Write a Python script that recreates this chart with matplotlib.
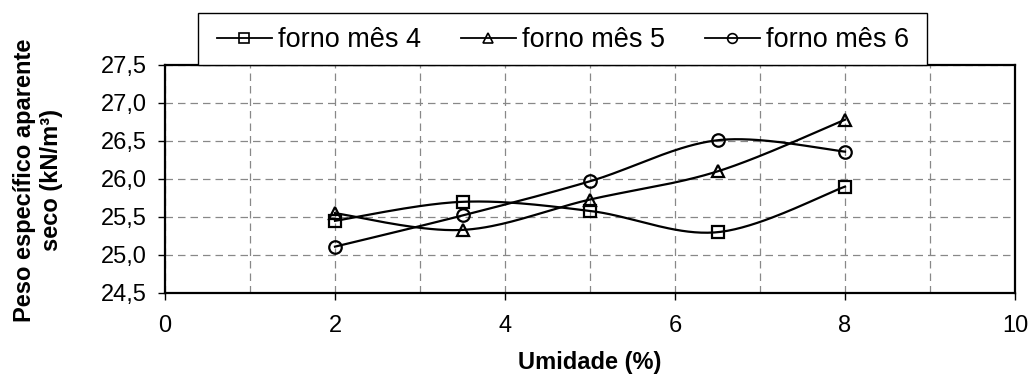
import matplotlib
matplotlib.use("Agg")
import matplotlib.pyplot as plt
from matplotlib.lines import Line2D
from matplotlib.patches import Rectangle
import numpy as np

plt.rcParams['font.family'] = ['Liberation Sans', 'DejaVu Sans']

# Data
umidade = [2, 3.5, 5, 6.5, 8]
mes4 = [25.45, 25.70, 25.58, 25.30, 25.90]
mes5 = [25.55, 25.33, 25.73, 26.10, 26.78]
mes6 = [25.11, 25.52, 25.97, 26.51, 26.36]
labels = ["forno mês 4", "forno mês 5", "forno mês 6"]
markers = ["s", "^", "o"]


def smooth(x, y, n=40):
    # Excel-like smoothed line (cubic Bezier through the points)
    p = np.column_stack([x, y]).astype(float)
    ext = np.vstack([p[0], p, p[-1]])
    t = np.linspace(0, 1, n)[:, None]
    out = []
    for i in range(len(p) - 1):
        p0, p3 = ext[i + 1], ext[i + 2]
        c1 = p0 + (ext[i + 2] - ext[i]) / 6
        c2 = p3 - (ext[i + 3] - ext[i + 1]) / 6
        seg = ((1 - t) ** 3) * p0 + 3 * ((1 - t) ** 2) * t * c1 + 3 * (1 - t) * t ** 2 * c2 + t ** 3 * p3
        out.append(seg)
    out = np.vstack(out)
    return out[:, 0], out[:, 1]


W, H = 1033, 379
fig = plt.figure(figsize=(W / 100, H / 100), dpi=100)
ax = fig.add_axes([165 / W, 1 - 293 / H, 850 / W, 228 / H])

for ys, m in zip([mes4, mes5, mes6], markers):
    sx, sy = smooth(umidade, ys)
    ax.plot(sx, sy, color="black", lw=1.6, zorder=3)
    ax.plot(umidade, ys, linestyle="none", marker=m, markersize=9,
            markerfacecolor="none", markeredgecolor="black", markeredgewidth=1.6, zorder=4)

ax.set_xlim(0, 10)
ax.set_ylim(24.5, 27.5)
ax.set_xticks([0, 2, 4, 6, 8, 10])
ax.set_xticks(np.arange(0, 11, 1), minor=True)
yt = np.arange(24.5, 27.51, 0.5)
ax.set_yticks(yt)
ax.set_yticklabels([f"{v:.1f}".replace(".", ",") for v in yt])
ax.tick_params(axis="both", which="major", labelsize=17, direction="out", length=5, width=1)
ax.tick_params(axis="x", which="minor", length=0)
ax.tick_params(axis="x", pad=11)
ax.tick_params(axis="y", pad=8)
ax.grid(True, which="both", color="#888888", linestyle=(0, (6, 4)), linewidth=0.9)
ax.grid(False, axis="y", which="minor")
for s in ax.spines.values():
    s.set_linewidth(1.6)

fig.text(590 / W, 1 - 363 / H, "Umidade (%)", ha="center", va="center",
         fontsize=17, fontweight="bold")
fig.text(38 / W, 1 - 180 / H, "Peso específico aparente\nseco (kN/m³)", rotation=90,
         ha="center", va="center", fontsize=17, fontweight="bold", linespacing=1.2)

# legend box
fig.add_artist(Rectangle((198 / W, 1 - 64.5 / H), (927 - 198) / W, (64.5 - 13) / H,
                         transform=fig.transFigure, facecolor="white",
                         edgecolor="black", linewidth=1.0, zorder=5))
handles = [Line2D([], [], color="black", lw=1.3, marker=m, markersize=7,
                  markerfacecolor="none", markeredgewidth=1.2) for m in markers]
leg = fig.legend(handles, labels, ncol=3, loc="center",
                 bbox_to_anchor=(563 / W, 1 - 40 / H),
                 fontsize=19.5, frameon=False,
                 handlelength=2.03, handletextpad=0.22, columnspacing=1.48, borderpad=0)
leg.set_zorder(10)

fig.savefig("out.png", dpi=100)
